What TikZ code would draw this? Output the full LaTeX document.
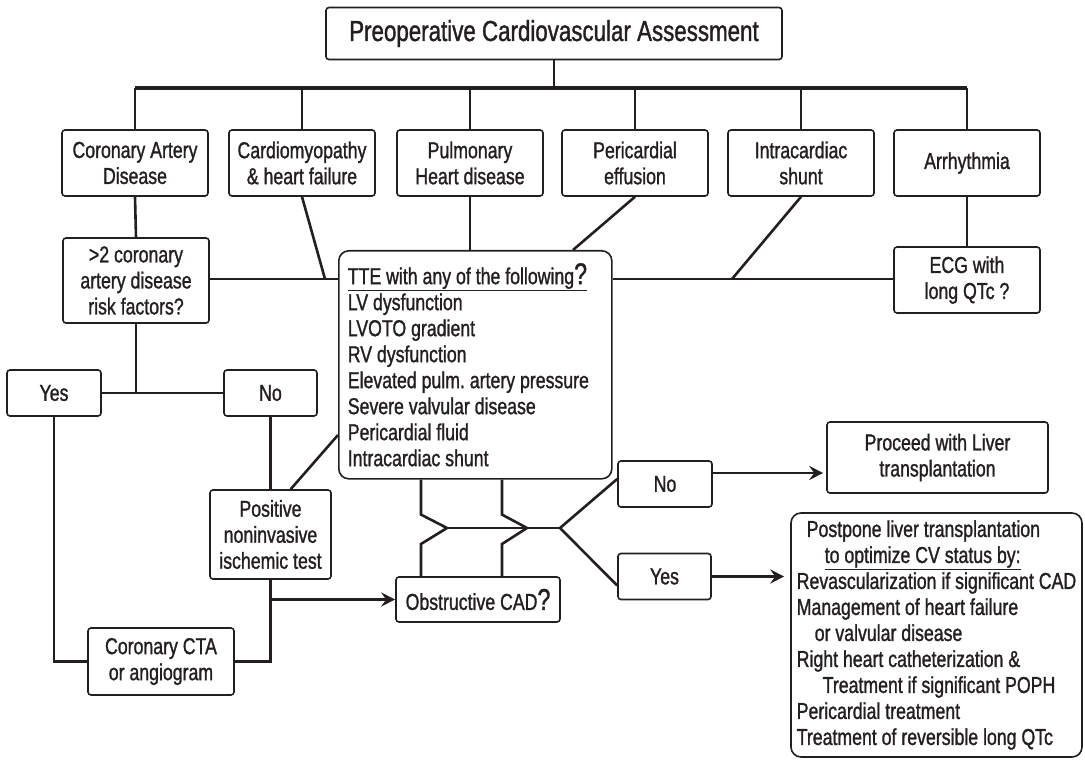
\documentclass[tikz,border=0pt]{standalone}
\usepackage{fontspec}
\setmainfont{Liberation Sans}[FakeStretch=0.77,FakeBold=1.2]
\usetikzlibrary{arrows.meta}
\definecolor{ink}{HTML}{231F20}
\frenchspacing
\newcommand{\bigq}{{\fontsize{30}{26}\selectfont ?}}
\begin{document}
\begin{tikzpicture}[x=1pt,y=-1pt,
  every node/.style={text=ink},
  box/.style={draw=ink,line width=1.6pt,rounded corners=3pt,inner sep=0pt,align=center,
     font=\fontsize{23}{26}\selectfont},
  bigbox/.style={box,rounded corners=10pt},
  conn/.style={draw=ink,line width=2.6pt},
  arr/.style={conn,-{Stealth[length=14pt,width=14pt,inset=5pt]}},
]
\useasboundingbox (0,0) rectangle (1085,762);
% title
\node[box,minimum width=456pt,minimum height=52pt,font=\fontsize{29}{30}\selectfont] (title) at (554,33.5) {Preoperative Cardiovascular Assessment};
% first row
\node[box,minimum width=146pt,minimum height=66pt] (cad) at (135,163) {Coronary Artery\\Disease};
\node[box,minimum width=146pt,minimum height=66pt] (cardio) at (302,163) {Cardiomyopathy\\\& heart failure};
\node[box,minimum width=146pt,minimum height=66pt] (pulm) at (470,163) {Pulmonary\\Heart disease};
\node[box,minimum width=146pt,minimum height=66pt] (peric) at (635,163) {Pericardial\\effusion};
\node[box,minimum width=146pt,minimum height=66pt] (intra) at (801,163) {Intracardiac\\shunt};
\node[box,minimum width=146pt,minimum height=66pt] (arr) at (967,163) {Arrhythmia};
% second level
\node[box,minimum width=146pt,minimum height=85pt] (risk) at (136,280.5) {>2 coronary\\artery disease\\risk factors?};
\node[box,minimum width=146pt,minimum height=66pt] (ecg) at (967,280) {ECG with\\long QTc ?};
\node[bigbox,anchor=north west,minimum width=273pt,minimum height=228pt,text width=255pt,inner xsep=9pt,align=flush left] (tte) at (338,250)
 {\underline{TTE with any of the following\bigq}\\LV dysfunction\\LVOTO gradient\\RV dysfunction\\Elevated pulm. artery pressure\\Severe valvular disease\\Pericardial fluid\\Intracardiac shunt};
% left branch
\node[box,minimum width=94pt,minimum height=46pt] (yesl) at (54,393) {Yes};
\node[box,minimum width=93pt,minimum height=46pt] (nol) at (270.5,393) {No};
\node[box,minimum width=121pt,minimum height=89pt] (pos) at (270.5,534.5) {Positive\\noninvasive\\ischemic test};
\node[box,minimum width=146pt,minimum height=67pt] (cta) at (161,661.5) {Coronary CTA\\or angiogram};
\node[box,minimum width=164pt,minimum height=45pt] (obst) at (478,599.5) {Obstructive CAD\bigq};
% right branch
\node[box,minimum width=94pt,minimum height=46pt] (nor) at (665,484) {No};
\node[box,minimum width=93pt,minimum height=46pt] (yesr) at (664.5,576.5) {Yes};
\node[box,minimum width=221pt,minimum height=71pt] (proc) at (937.5,457.5) {Proceed with Liver\\transplantation};
\node[bigbox,minimum width=291pt,minimum height=244pt,align=left] (post) at (936.5,635)
 {\hspace*{10pt}Postpone liver transplantation\\
  \hspace*{28pt}\underline{to optimize CV status by:}\\
  Revascularization if significant CAD\\
  Management of heart failure\\
  \hspace*{18pt}or valvular disease\\
  Right heart catheterization \&\\
  \hspace*{26pt}Treatment if significant POPH\\
  Pericardial treatment\\
  Treatment of reversible long QTc};
% coordinates
\coordinate (barL) at (135,88);
\coordinate (barR) at (967,88);
\coordinate (j1) at (325,279);
\coordinate (j2) at (573,250);
\coordinate (j3) at (732,279);
\coordinate (j4) at (136,393);
\coordinate (j5) at (338,435);
\coordinate (x1) at (421,0);
\coordinate (x2) at (502,0);
\coordinate (m1) at (447,528);
\coordinate (m2) at (527,528);
\coordinate (m3) at (560,528);
\coordinate (ar1) at (0,473);
% top tree
\draw[conn] (title.south) -- (title.south |- barL);
\draw[conn,line width=3.6pt] (barL) -- (barR);
\foreach \n in {cad,cardio,pulm,peric,intra,arr}
  \draw[conn] (\n.north) -- (\n.north |- barL);
% second level connectors
\draw[conn] (cad.south) -- (risk.north);
\draw[conn] (risk.east |- j1) -- (tte.west |- j1);
\draw[conn] (tte.east |- j1) -- (ecg.west |- j1);
\draw[conn] (cardio.south) -- (j1);
\draw[conn] (pulm.south) -- (pulm.south |- tte.north);
\draw[conn] (peric.south) -- (j2);
\draw[conn] (intra.south) -- (j3);
\draw[conn] (arr.south) -- (ecg.north);
% left branch
\draw[conn] (risk.south) -- (j4);
\draw[conn] (yesl.east) -- (nol.west);
\draw[conn] (yesl.south) -- (yesl.south |- cta.west) -- (cta.west);
\draw[conn] (nol.south) -- (pos.north);
\draw[conn] (pos.66) -- (j5);
\draw[conn] (cta.east) -- (cta.east -| pos.south) -- (pos.south);
\draw[arr] (pos.south |- obst.west) -- (obst.west);
% zigzags
\draw[conn] (tte.south -| x1) -- ++(0,35) -- (m1) -- ++(-26,16) -- (obst.north -| x1);
\draw[conn] (tte.south -| x2) -- ++(0,35) -- (m2) -- ++(-25,16) -- (obst.north -| x2);
\draw[conn] (m1) -- (m3);
\draw[conn] (m3) -- ([yshift=5pt]nor.west);
\draw[conn] (m3) -- ([yshift=-9pt]yesr.west);
% outcomes
\draw[arr,shorten >=3pt] (nor.east |- ar1) -- (proc.west |- ar1);
\draw[arr,shorten >=6pt] (yesr.east) -- (yesr.east -| post.west);
\end{tikzpicture}
\end{document}
